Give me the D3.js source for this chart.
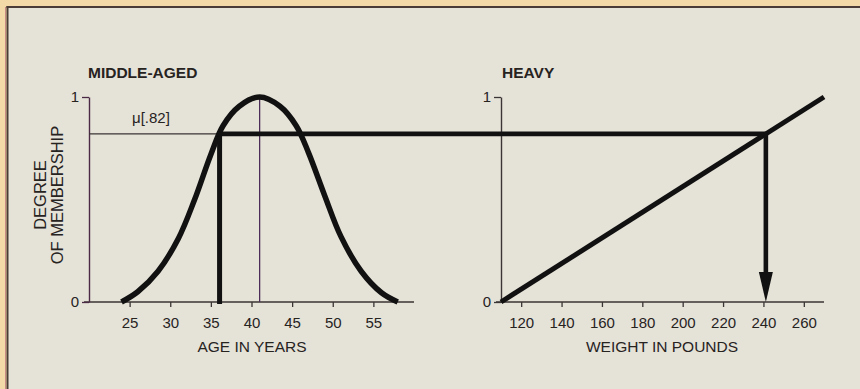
<!DOCTYPE html>
<html>
<head>
<meta charset="utf-8">
<script src="https://cdn.jsdelivr.net/npm/d3@7"></script>
<style>
  html, body { margin: 0; padding: 0; background: #f4d9a8; }
  svg { display: block; }
  text { font-family: "Liberation Sans", Arial, Helvetica, sans-serif; fill: #27231f; }
</style>
</head>
<body>
<svg id="chart" width="860" height="389"></svg>
<script>
// "Middle-aged": degree of membership by age in years
const ageYears       = [24, 26, 28.5, 31, 33, 35, 36.5, 38.5, 41, 43.5, 45.5, 47, 49, 51, 53.5, 56, 58];
const ageMembership  = [0, 0.05, 0.15, 0.31, 0.5, 0.72, 0.86, 0.955, 1, 0.955, 0.86, 0.73, 0.52, 0.32, 0.15, 0.045, 0];

// "Heavy": degree of membership by weight in pounds
const weightPounds     = [110, 270];
const weightMembership = [0, 1];

// Tick values
const ageTicks        = [25, 30, 35, 40, 45, 50, 55];
const weightTicks     = [120, 140, 160, 180, 200, 220, 240, 260];
const membershipTicks = [0, 1];

// Degree of membership carried across from age to weight
const inputMembership = 0.82;
const inputLabel = "μ[.82]";

const panelTitles = ["MIDDLE-AGED", "HEAVY"];
const axisTitles  = ["AGE IN YEARS", "WEIGHT IN POUNDS"];
const yTitleLines = ["DEGREE", "OF MEMBERSHIP"];

const svg = d3.select("#chart");

// Background panel with its border
svg.append("rect").attr("x", 0).attr("y", 0).attr("width", 860).attr("height", 389).attr("fill", "#f4d9a8");
svg.append("rect").attr("x", 8).attr("y", 8).attr("width", 852).attr("height", 381).attr("fill", "#e5e2d7");
svg.append("line").attr("x1", 5.5).attr("x2", 5.5).attr("y1", 7).attr("y2", 389).attr("stroke", "#c98a86").attr("stroke-width", 1);
svg.append("line").attr("x1", 7.5).attr("x2", 7.5).attr("y1", 6).attr("y2", 389).attr("stroke", "#4a3b36").attr("stroke-width", 2);
svg.append("line").attr("x1", 6.5).attr("x2", 860).attr("y1", 7).attr("y2", 7).attr("stroke", "#4a3b36").attr("stroke-width", 2);

// Scales
const xAge    = d3.scaleLinear().domain([20, 60]).range([89, 414]);
const xWeight = d3.scaleLinear().domain([110, 270]).range([501, 824]);
const y       = d3.scaleLinear().domain([0, 1]).range([302, 97]);

function drawXAxis(scale, ticks, color) {
  const g = svg.append("g").attr("transform", `translate(0,${y(0)})`);
  g.call(d3.axisBottom(scale).tickValues(ticks).tickSize(5).tickPadding(10).tickSizeOuter(0));
  g.select(".domain").remove();
  g.selectAll(".tick line").attr("stroke", color).attr("stroke-width", 1.3);
  g.selectAll(".tick text").attr("font-size", 15).attr("fill", "#27231f")
    .attr("font-family", "'Liberation Sans', Arial, sans-serif");
  const [d0, d1] = scale.domain();
  svg.append("line")
    .attr("x1", scale(d0) - 5).attr("x2", scale(d1))
    .attr("y1", y(0)).attr("y2", y(0))
    .attr("stroke", color).attr("stroke-width", 1.5);
}

function drawYAxis(xPos, color) {
  const g = svg.append("g").attr("transform", `translate(${xPos},0)`);
  g.call(d3.axisLeft(y).tickValues(membershipTicks).tickFormat(d3.format("d"))
    .tickSize(7).tickPadding(3).tickSizeOuter(0));
  g.select(".domain").attr("stroke", color).attr("stroke-width", 1.4);
  g.selectAll(".tick line").attr("stroke", color).attr("stroke-width", 1.3);
  g.selectAll(".tick text").attr("font-size", 15).attr("fill", "#27231f")
    .attr("font-family", "'Liberation Sans', Arial, sans-serif");
}

drawXAxis(xAge, ageTicks, "#3b3535");
drawXAxis(xWeight, weightTicks, "#3b3535");
drawYAxis(xAge(20), "#4a2a44");
drawYAxis(xWeight(110), "#3b3535");

// Titles
svg.append("text").attr("x", xAge(20) - 1).attr("y", 78)
  .attr("font-size", 15.5).attr("font-weight", "bold").text(panelTitles[0]);
svg.append("text").attr("x", xWeight(110) + 1).attr("y", 77.5)
  .attr("font-size", 15.5).attr("font-weight", "bold").text(panelTitles[1]);

svg.append("text").attr("x", 252).attr("y", 351.5).attr("text-anchor", "middle")
  .attr("font-size", 15.5).text(axisTitles[0]);
svg.append("text").attr("x", 662).attr("y", 351.5).attr("text-anchor", "middle")
  .attr("font-size", 15.5).text(axisTitles[1]);

svg.selectAll(".ytitle").data(yTitleLines).join("text")
  .attr("class", "ytitle")
  .attr("transform", (d, i) => `translate(${45.5 + i * 17.5},195) rotate(-90)`)
  .attr("text-anchor", "middle").attr("font-size", 16.5)
  .text(d => d);

// Points of the two membership functions
const agePoints = ageYears.map((a, i) => [a, ageMembership[i]]);
const weightPoints = weightPounds.map((w, i) => [w, weightMembership[i]]);

// Age at the peak of the "middle-aged" curve
const peakIndex = d3.maxIndex(ageMembership);
const peakAge = ageYears[peakIndex];

// Where the rising side of the curve reaches the carried membership
let crossAge = ageYears[0];
for (let i = 0; i < peakIndex; i++) {
  const m0 = ageMembership[i], m1 = ageMembership[i + 1];
  if (m0 <= inputMembership && inputMembership <= m1) {
    crossAge = ageYears[i] + (inputMembership - m0) / (m1 - m0) * (ageYears[i + 1] - ageYears[i]);
    break;
  }
}
// Weight at which "heavy" reaches the same membership
const crossWeight = weightPounds[0] +
  (inputMembership - weightMembership[0]) / (weightMembership[1] - weightMembership[0]) *
  (weightPounds[1] - weightPounds[0]);

const yLevel = y(inputMembership);

// Thin guide lines
svg.append("line")
  .attr("x1", xAge(peakAge)).attr("x2", xAge(peakAge))
  .attr("y1", y(1)).attr("y2", y(0))
  .attr("stroke", "#4b2d58").attr("stroke-width", 1.3);
svg.append("line")
  .attr("x1", xAge(20)).attr("x2", xAge(crossAge))
  .attr("y1", yLevel).attr("y2", yLevel)
  .attr("stroke", "#3a3434").attr("stroke-width", 1.3);

svg.append("text").attr("x", 132).attr("y", yLevel - 11)
  .attr("font-size", 15).text(inputLabel);

// Membership curves
const ageLine = d3.line().x(d => xAge(d[0])).y(d => y(d[1])).curve(d3.curveCatmullRom.alpha(0.5));
svg.append("path").datum(agePoints).attr("d", ageLine)
  .attr("fill", "none").attr("stroke", "#111").attr("stroke-width", 5.5);

const weightLine = d3.line().x(d => xWeight(d[0])).y(d => y(d[1]));
svg.append("path").datum(weightPoints).attr("d", weightLine)
  .attr("fill", "none").attr("stroke", "#111").attr("stroke-width", 5);

// Inference path: up from the age, across, and down to the weight
svg.append("line")
  .attr("x1", xAge(crossAge)).attr("x2", xAge(crossAge))
  .attr("y1", yLevel - 2).attr("y2", y(0) + 2)
  .attr("stroke", "#111").attr("stroke-width", 5);
svg.append("line")
  .attr("x1", xAge(crossAge) - 2).attr("x2", xWeight(crossWeight))
  .attr("y1", yLevel).attr("y2", yLevel)
  .attr("stroke", "#111").attr("stroke-width", 4.6);

const arrowLen = 30, arrowHalf = 7;
svg.append("line")
  .attr("x1", xWeight(crossWeight)).attr("x2", xWeight(crossWeight))
  .attr("y1", yLevel - 2).attr("y2", y(0) - arrowLen + 2)
  .attr("stroke", "#111").attr("stroke-width", 4.6);
svg.append("path")
  .attr("d", d3.line()([
    [xWeight(crossWeight) - arrowHalf, y(0) - arrowLen],
    [xWeight(crossWeight) + arrowHalf, y(0) - arrowLen],
    [xWeight(crossWeight), y(0)]
  ]) + "Z")
  .attr("fill", "#111");
</script>
</body>
</html>
